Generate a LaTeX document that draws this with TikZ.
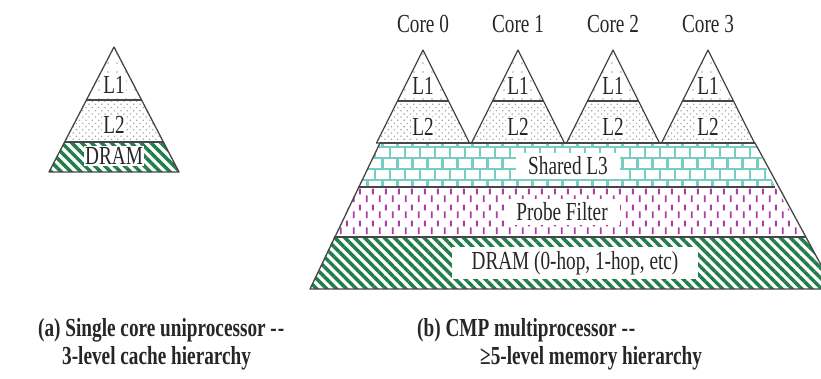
\documentclass[tikz,border=0pt]{standalone}
\usepackage{fontspec}
\setmainfont{Liberation Serif}[FakeStretch=0.74]
\usetikzlibrary{patterns,patterns.meta}

\definecolor{dramgreen}{RGB}{35,125,75}
\definecolor{brickteal}{RGB}{120,205,195}
\definecolor{probepink}{RGB}{175,60,165}
\definecolor{dotgray}{RGB}{165,165,165}
\definecolor{edgegray}{RGB}{70,70,70}

\pgfdeclarepatternformonly{l3bricks}{\pgfqpoint{-2pt}{-2pt}}{\pgfqpoint{17pt}{24pt}}{\pgfqpoint{15pt}{22pt}}{%
  \pgfsetlinewidth{2.6pt}
  \pgfpathmoveto{\pgfqpoint{-2pt}{0pt}}\pgfpathlineto{\pgfqpoint{17pt}{0pt}}
  \pgfpathmoveto{\pgfqpoint{-2pt}{11pt}}\pgfpathlineto{\pgfqpoint{17pt}{11pt}}
  \pgfpathmoveto{\pgfqpoint{0pt}{0pt}}\pgfpathlineto{\pgfqpoint{0pt}{11pt}}
  \pgfpathmoveto{\pgfqpoint{7.5pt}{11pt}}\pgfpathlineto{\pgfqpoint{7.5pt}{22pt}}
  \pgfusepath{stroke}}

\pgfdeclarepatternformonly{pfdashes}{\pgfqpoint{0pt}{0pt}}{\pgfqpoint{13pt}{16pt}}{\pgfqpoint{13pt}{16pt}}{%
  \pgfsetlinewidth{2pt}
  \pgfpathmoveto{\pgfqpoint{3pt}{1pt}}\pgfpathlineto{\pgfqpoint{3pt}{8pt}}
  \pgfpathmoveto{\pgfqpoint{9.5pt}{9pt}}\pgfpathlineto{\pgfqpoint{9.5pt}{15pt}}
  \pgfusepath{stroke}}

\tikzset{
  cachel1/.style={pattern={Dots[radius=0.8pt,distance=9pt]}, pattern color=dotgray},
  cachel2/.style={pattern={Dots[radius=0.9pt,distance=4.5pt,angle=45]}, pattern color=dotgray},
  dram/.style={pattern={Lines[angle=-45,distance=7pt,line width=3.5pt]}, pattern color=dramgreen},
  sharedl3/.style={pattern=l3bricks, pattern color=brickteal},
  probe/.style={pattern=pfdashes, pattern color=probepink},
  edge/.style={draw=edgegray, line width=1.3pt, line join=round},
  level/.style={draw=edgegray, line width=2pt},
  tag/.style={fill=white, inner sep=1pt},
  bandtag/.style={fill=white, inner xsep=12pt, inner ysep=4pt},
  caption/.style={font=\fontsize{26}{28}\selectfont\bfseries, anchor=base west, inner sep=0pt}
}

\begin{document}
\begin{tikzpicture}[x=1pt, y=-1pt, every node/.style={font=\fontsize{26}{28}\selectfont, text=black!85}]
    \useasboundingbox (0,0) rectangle (821,378);
    \begin{scope}
      \fill[cachel1] (114,47) -- (141.6,100) -- (86.4,100) -- cycle;
      \fill[cachel2] (86.4,100) -- (141.6,100) -- (163.4,142) -- (64.6,142) -- cycle;
      \fill[dram] (64.6,142) -- (163.4,142) -- (179,172) -- (49,172) -- cycle;
      \draw[edge] (114,47) -- (179,172) -- (49,172) -- cycle;
      \draw[level] (86.4,100) -- (141.6,100);
      \draw[level] (64.6,142) -- (163.4,142);
      \node[tag] (sl1) at (114,85) {L1};
      \node[tag] (sl2) at (114,125) {L2};
      \node[tag] (sdram) at (114,156) {DRAM};
    \end{scope}
    \begin{scope}
      \foreach \c in {0,...,3} {
        \pgfmathsetmacro\cx{423+95*\c}
        \fill[cachel1] (\cx,50) -- ({\cx+25.5},101) -- ({\cx-25.5},101) -- cycle;
        \fill[cachel2] ({\cx-25.5},101) -- ({\cx+25.5},101) -- ({\cx+46.5},143) -- ({\cx-46.5},143) -- cycle;
        \draw[edge] (\cx,50) -- ({\cx+46.5},143) -- ({\cx-46.5},143) -- cycle;
        \draw[level] ({\cx-25.5},101) -- ({\cx+25.5},101);
        \node[anchor=base] (core\c) at (\cx,32) {Core \c};
        \node[tag] (l1c\c) at (\cx,86) {L1};
        \node[tag] (l2c\c) at (\cx,127) {L2};
      }
      \fill[sharedl3] (380,143) -- (755,143) -- (775,187) -- (358,187) -- cycle;
      \fill[probe] (358,187) -- (775,187) -- (806,237) -- (334,237) -- cycle;
      \fill[dram] (334,237) -- (806,237) -- (834,289) -- (310,289) -- cycle;
      \draw[edge] (380,143) -- (755,143) -- (834,289) -- (310,289) -- cycle;
      \draw[level] (380,143) -- (755,143);
      \draw[level] (358,187) -- (775,187);
      \draw[level] (334,237) -- (806,237);
      \node[bandtag] (l3) at (568,166) {Shared L3};
      \node[bandtag] (pf) at (562,212) {Probe Filter};
      \node[bandtag, inner xsep=20pt] (bdram) at (575,263) {DRAM (0-hop, 1-hop, etc)};
    \end{scope}
    \node[caption] (capa) at (38,336) {(a) Single core uniprocessor -\kern1pt-};
    \node[caption] (capa2) at (62,364) {3-level cache hierarchy};
    \node[caption] (capb) at (417,336) {(b) CMP multiprocessor -\kern1pt-};
    \node[caption] (capb2) at (480,364) {≥5-level memory hierarchy};
  \end{tikzpicture}
\end{document}
